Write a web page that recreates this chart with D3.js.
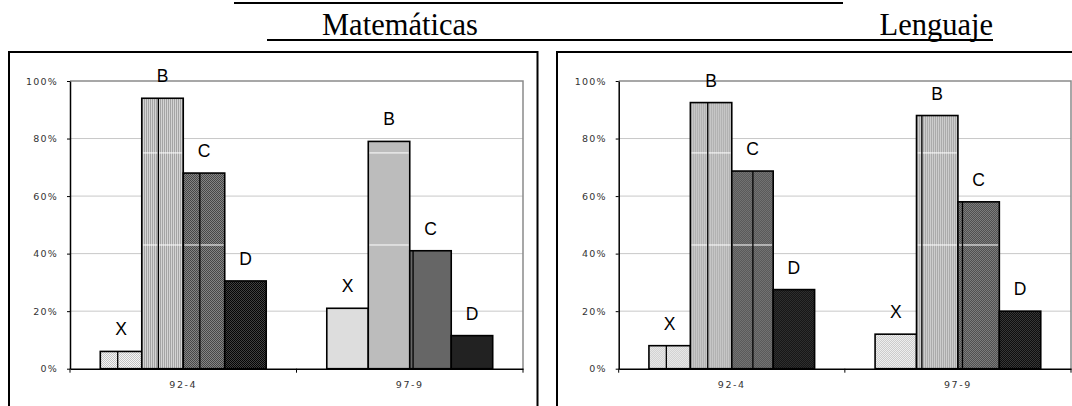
<!DOCTYPE html>
<html>
<head>
<meta charset="utf-8">
<script src="https://cdn.jsdelivr.net/npm/d3@7"></script>
<style>
  html, body { margin: 0; padding: 0; background: #fff; }
  svg { display: block; }
</style>
</head>
<body>
<svg id="chart" width="1072" height="406"></svg>
<script>
// Data
const categories = ["92-4", "97-9"];
const series = ["X", "B", "C", "D"];
const subjects = ["Matemáticas", "Lenguaje"];
const matematicas = [
  [6, 94, 68, 30.5],   // 92-4
  [21, 79, 41, 11.5]   // 97-9
];
const lenguaje = [
  [8, 92.5, 68.7, 27.5],
  [12, 88, 58, 20]
];
const tickValues = [0, 20, 40, 60, 80, 100];
const tickLabels = ["0%", "20%", "40%", "60%", "80%", "100%"];

// Print-style tile seams inside the hatched bars (fraction of bar width)
const seamsMat = [[0.42, 0.40, 0.40, null], [null, null, 0.08, null]];
const seamsLen = [[0.42, 0.42, 0.51, null], [null, 0.13, 0.11, null]];
const seamLevels = [75, 43];

const svg = d3.select("#chart");
const defs = svg.append("defs");

// Fill patterns for the four bar series
function pattern(id, bg, fg, kind) {
  const p = defs.append("pattern").attr("id", id)
    .attr("patternUnits", "userSpaceOnUse").attr("width", 2).attr("height", 2);
  p.append("rect").attr("width", 2).attr("height", 2).attr("fill", bg);
  if (kind === "stripe") {
    p.append("rect").attr("x", 0).attr("y", 0).attr("width", 1).attr("height", 2).attr("fill", fg);
  } else {
    p.append("rect").attr("x", 0).attr("y", 0).attr("width", 1).attr("height", 1).attr("fill", fg);
    p.append("rect").attr("x", 1).attr("y", 1).attr("width", 1).attr("height", 1).attr("fill", fg);
  }
}
pattern("pX", "#f6f6f6", "#c4c4c4", "check");
pattern("pB", "#d4d4d4", "#a4a4a4", "stripe");
pattern("pC", "#858585", "#474747", "check");
pattern("pD", "#404040", "#050505", "check");
const fills = { X: "url(#pX)", B: "url(#pB)", C: "url(#pC)", D: "url(#pD)" };

// Heading lines and subject titles
svg.append("line").attr("x1", 234).attr("x2", 843).attr("y1", 3).attr("y2", 3)
  .attr("stroke", "#000").attr("stroke-width", 2);
svg.append("line").attr("x1", 267).attr("x2", 993).attr("y1", 40).attr("y2", 40)
  .attr("stroke", "#000").attr("stroke-width", 2);
svg.append("text").attr("x", 322).attr("y", 34.5).text(subjects[0])
  .attr("font-family", "Liberation Serif, Times New Roman, serif").attr("font-size", 30.5);
svg.append("text").attr("x", 993).attr("y", 34.5).attr("text-anchor", "end").text(subjects[1])
  .attr("font-family", "Liberation Serif, Times New Roman, serif").attr("font-size", 30.5);

const y = d3.scaleLinear().domain([0, 100]).range([368.7, 81]);

function panel(frame, plotX0, plotX1, data, seams) {
  const g = svg.append("g");
  g.append("rect").attr("x", frame[0]).attr("y", 52).attr("width", frame[1] - frame[0]).attr("height", 400)
    .attr("fill", "none").attr("stroke", "#000").attr("stroke-width", 2);

  const x0 = d3.scaleBand().domain(categories).range([plotX0, plotX1]).paddingInner(0).paddingOuter(0);
  const x1 = d3.scaleBand().domain(series).range([0, x0.bandwidth()]).paddingInner(0).paddingOuter(0.73);

  // grid
  g.selectAll("line.grid").data(tickValues.filter(v => v > 0 && v < 100)).join("line")
    .attr("x1", plotX0).attr("x2", plotX1).attr("y1", d => y(d)).attr("y2", d => y(d))
    .attr("stroke", "#c8c8c8").attr("stroke-width", 1);
  // plot area border (top, right)
  g.append("path")
    .attr("d", `M${plotX0},${y(100)}H${plotX1}V${y(0)}`)
    .attr("fill", "none").attr("stroke", "#8a8a8a").attr("stroke-width", 1.5);

  // bars
  const groups = g.selectAll("g.cat").data(categories).join("g")
    .attr("transform", c => `translate(${x0(c)},0)`);
  groups.each(function (c, ci) {
    const gg = d3.select(this);
    series.forEach((s, si) => {
      const v = data[ci][si];
      const bx = x1(s), bw = x1.bandwidth(), by = y(v), bh = y(0) - y(v);
      gg.append("rect").attr("x", bx).attr("y", by).attr("width", bw).attr("height", bh)
        .attr("fill", fills[s]);
      if (s === "B" || s === "C") {
        seamLevels.filter(l => l < v).forEach(l => {
          gg.append("line").attr("x1", bx + 1).attr("x2", bx + bw - 1)
            .attr("y1", y(l)).attr("y2", y(l)).attr("stroke", "#fff").attr("stroke-width", 1);
        });
      }
      const sf = seams[ci][si];
      if (sf !== null) {
        gg.append("line").attr("x1", bx + bw * sf).attr("x2", bx + bw * sf)
          .attr("y1", by).attr("y2", y(0)).attr("stroke", "#000").attr("stroke-width", 1.3);
      }
      gg.append("rect").attr("x", bx).attr("y", by).attr("width", bw).attr("height", bh)
        .attr("fill", "none").attr("stroke", "#000").attr("stroke-width", 1.6);
      gg.append("text").attr("x", bx + bw / 2).attr("y", by - 16).attr("text-anchor", "middle")
        .attr("font-family", "Liberation Sans, Arial, sans-serif").attr("font-size", 17.5).text(s);
    });
  });

  // y axis
  const ya = g.append("g").attr("transform", `translate(${plotX0},0)`)
    .call(d3.axisLeft(y).tickValues(tickValues).tickFormat((d, i) => tickLabels[i]).tickSize(3).tickSizeOuter(0).tickPadding(9));
  ya.select(".domain").attr("stroke", "#000").attr("stroke-width", 1.5);
  ya.selectAll(".tick line").attr("stroke", "#000");
  ya.selectAll(".tick text").attr("font-family", "DejaVu Sans, sans-serif").attr("font-size", 9.5)
    .attr("fill", "#333").attr("letter-spacing", 1.2);

  // x axis
  const xa = g.append("g").attr("transform", `translate(0,${y(0)})`)
    .call(d3.axisBottom(x0).tickSize(0).tickPadding(13));
  xa.select(".domain").attr("stroke", "#000").attr("stroke-width", 1.5);
  xa.selectAll(".tick text").attr("font-family", "DejaVu Sans, sans-serif").attr("font-size", 9.5)
    .attr("fill", "#333").attr("letter-spacing", 1.6);
  const bounds = categories.map(c => x0(c)).concat([x0(categories[categories.length - 1]) + x0.bandwidth()]);
  g.selectAll("line.xt").data(bounds).join("line")
    .attr("x1", d => d).attr("x2", d => d).attr("y1", y(0)).attr("y2", y(0) + 4)
    .attr("stroke", "#000").attr("stroke-width", 1);
}

panel([9, 537.5], 70, 523, matematicas, seamsMat);
panel([557, 1085], 618.7, 1071, lenguaje, seamsLen);
</script>
</body>
</html>
